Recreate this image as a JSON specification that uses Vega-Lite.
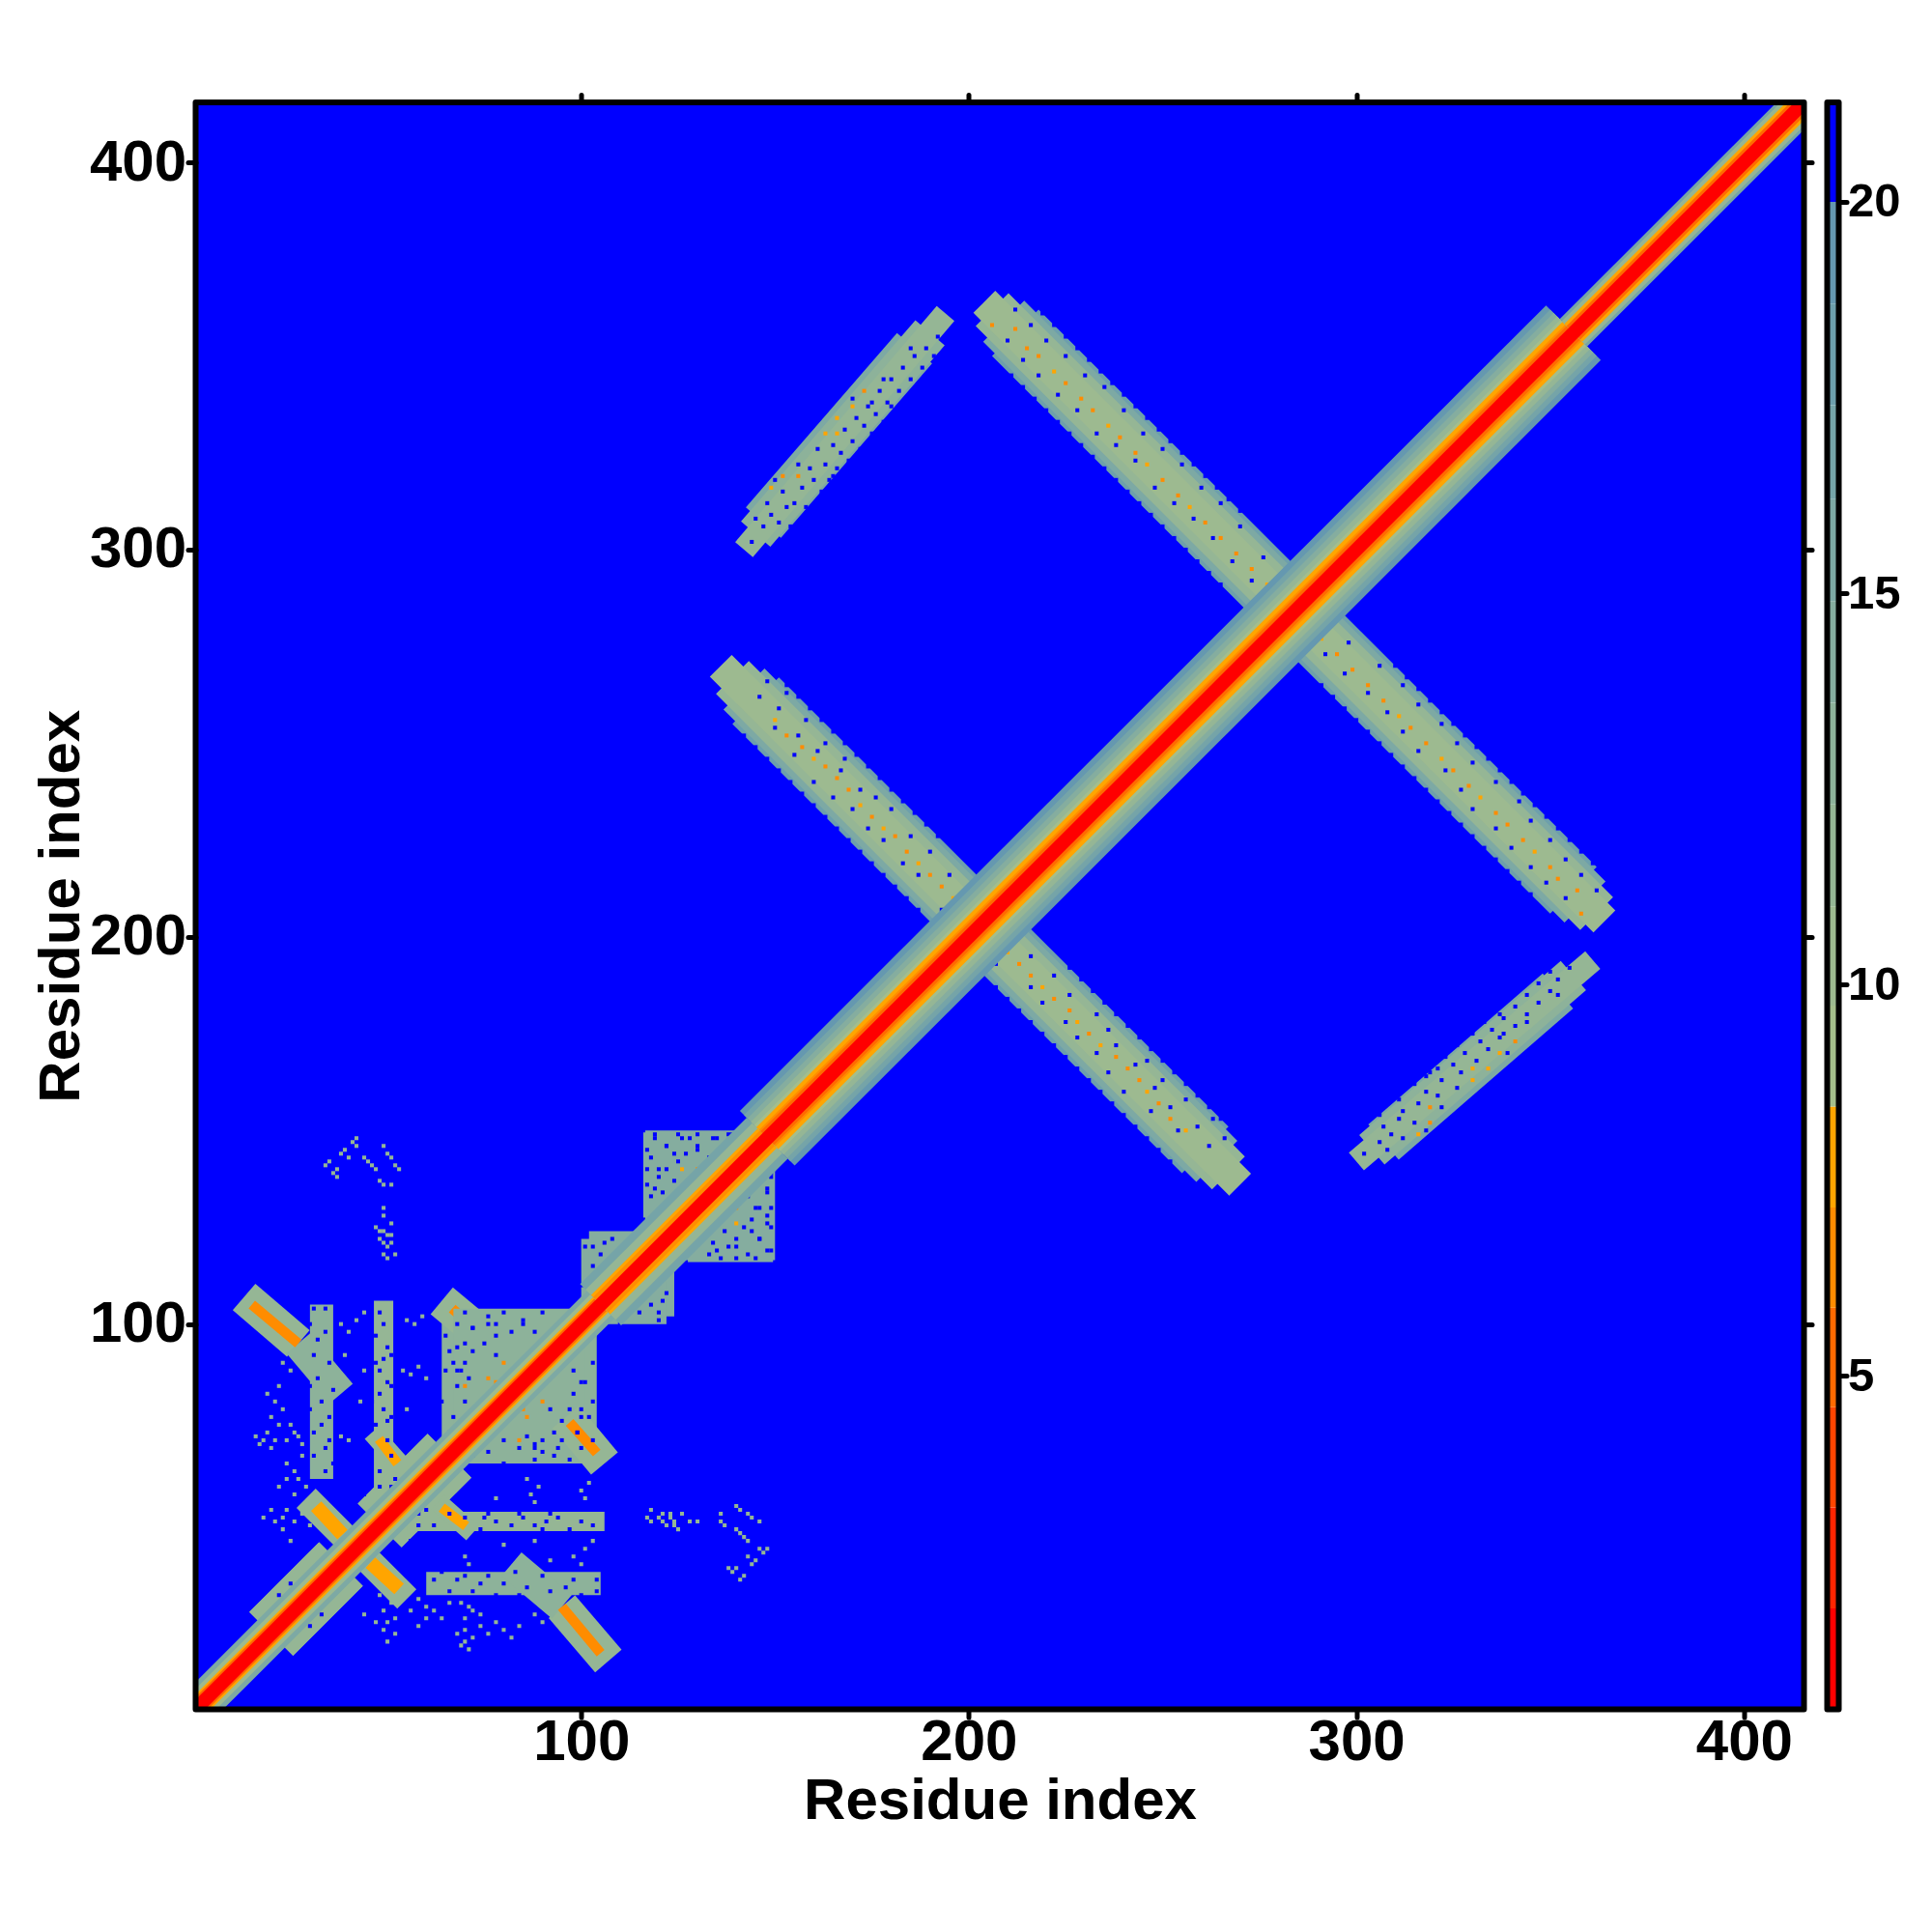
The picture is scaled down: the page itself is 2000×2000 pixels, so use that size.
{"$schema":"https://vega.github.io/schema/vega-lite/v6.json","background":"white","padding":{"left":32.5,"top":95,"right":0,"bottom":0},"spacing":10,"config":{"font":"Liberation Sans"},
"datasets":{
"bands":[
{"i":145,"j":261,"i2":203,"j2":203,"w":17,"d":18},{"i":142,"j":264,"i2":203,"j2":203,"w":15,"d":15},{"i":139,"j":267,"i2":203,"j2":203,"w":12,"d":12},{"i":136,"j":270,"i2":203,"j2":203,"w":8,"d":10},
{"i":212,"j":356,"i2":284,"j2":284,"w":17,"d":18},{"i":209,"j":359,"i2":284,"j2":284,"w":15,"d":15},{"i":206,"j":362,"i2":284,"j2":284,"w":12,"d":12},{"i":204,"j":364,"i2":284,"j2":284,"w":8,"d":10},
{"i":147,"j":307,"i2":186,"j2":352,"w":12,"d":16},{"i":145,"j":304,"i2":190,"j2":356,"w":10,"d":13},{"i":142,"j":300,"i2":194,"j2":361,"w":6,"d":11},
{"i":116,"j":133,"i2":150,"j2":133,"w":33,"d":14},{"i":100,"j":112,"i2":124,"j2":112,"w":20,"d":14},
{"i":64,"j":84,"i2":104,"j2":84,"w":34,"d":13},{"i":48,"j":48,"i2":66,"j2":66,"w":16,"d":12},{"i":20,"j":20,"i2":38,"j2":38,"w":16,"d":12},
{"i":33,"j":60,"i2":33,"j2":105,"w":6,"d":13},{"i":49,"j":55,"i2":49,"j2":106,"w":5,"d":11},
{"i":13,"j":107,"i2":27,"j2":95,"w":9,"d":12},{"i":27,"j":95,"i2":38,"j2":82,"w":8,"d":13},{"i":15,"j":105,"i2":27,"j2":95,"w":2.6,"d":7},
{"i":64,"j":106,"i2":76,"j2":96,"w":9,"d":12},{"i":66.7,"j":104,"i2":74.6,"j2":97,"w":2.6,"d":7},
{"i":46,"j":72,"i2":54,"j2":63,"w":5,"d":12},{"i":47.8,"j":70.3,"i2":52.6,"j2":64,"w":2.6,"d":7.5},
{"i":29,"j":55,"i2":40,"j2":44,"w":7,"d":12},{"i":31.6,"j":53,"i2":38.4,"j2":45.6,"w":3.6,"d":7.5}
],
"diag":[
{"i":0,"j":0,"i2":105,"j2":105,"w":10,"d":16},{"i":0,"j":0,"i2":105,"j2":105,"w":7.5,"d":10},{"i":0,"j":0,"i2":105,"j2":105,"w":5.5,"d":7.8},{"i":0,"j":0,"i2":105,"j2":105,"w":4.5,"d":5},
{"i":105,"j":105,"i2":148,"j2":148,"w":15,"d":17},{"i":105,"j":105,"i2":148,"j2":148,"w":11,"d":11},{"i":105,"j":105,"i2":148,"j2":148,"w":7,"d":7.8},{"i":105,"j":105,"i2":148,"j2":148,"w":5.5,"d":6},
{"i":148,"j":148,"i2":356,"j2":356,"w":20,"d":19},{"i":148,"j":148,"i2":356,"j2":356,"w":17,"d":17},{"i":148,"j":148,"i2":356,"j2":356,"w":14.5,"d":14},{"i":148,"j":148,"i2":356,"j2":356,"w":12,"d":11},{"i":148,"j":148,"i2":356,"j2":356,"w":9.5,"d":9.5},{"i":148,"j":148,"i2":356,"j2":356,"w":8,"d":7.8},{"i":148,"j":148,"i2":356,"j2":356,"w":6,"d":6.5},{"i":148,"j":148,"i2":356,"j2":356,"w":5,"d":5},
{"i":356,"j":356,"i2":416,"j2":416,"w":10,"d":17},{"i":356,"j":356,"i2":416,"j2":416,"w":8.5,"d":11},{"i":356,"j":356,"i2":416,"j2":416,"w":6.5,"d":7.8},{"i":356,"j":356,"i2":416,"j2":416,"w":5,"d":5},
{"i":0,"j":0,"i2":416,"j2":416,"w":3.5,"d":1.5}
],
"cells":[
{"i":150,"j":256,"d":7.8},{"i":153,"j":252,"d":6.5},{"i":157,"j":249,"d":7},{"i":160,"j":246,"d":7.8},{"i":163,"j":244,"d":6.5},{"i":166,"j":241,"d":7},{"i":169,"j":238,"d":6},{"i":172,"j":234,"d":7.8},{"i":175,"j":231,"d":6.5},{"i":178,"j":228,"d":7.5},{"i":181,"j":226,"d":6.5},{"i":184,"j":222,"d":6},{"i":187,"j":219,"d":7.5},{"i":190,"j":216,"d":6},{"i":193,"j":213,"d":7},{"i":196,"j":210,"d":7.5},{"i":199,"j":207,"d":6.5},
{"i":206,"j":358,"d":6},{"i":212,"j":357,"d":6},{"i":215,"j":352,"d":6.5},{"i":218,"j":350,"d":6},{"i":222,"j":346,"d":7.8},{"i":225,"j":343,"d":6},{"i":229,"j":339,"d":7},{"i":232,"j":336,"d":6.5},{"i":236,"j":332,"d":7.8},{"i":239,"j":329,"d":6.5},{"i":243,"j":325,"d":7},{"i":246,"j":322,"d":7.5},{"i":250,"j":318,"d":6.5},{"i":254,"j":314,"d":6},{"i":257,"j":311,"d":7.5},{"i":261,"j":307,"d":6},{"i":265,"j":303,"d":7},{"i":269,"j":299,"d":6.5},{"i":273,"j":295,"d":6},{"i":277,"j":291,"d":7.8},{"i":281,"j":287,"d":6.5},
{"i":149,"j":316,"d":7.5},{"i":152,"j":319,"d":7},{"i":156,"j":319,"d":7},{"i":163,"j":330,"d":7.5},{"i":166,"j":330,"d":7.5},{"i":166,"j":334,"d":8},{"i":170,"j":337,"d":8},{"i":173,"j":341,"d":7},
{"i":34,"j":141,"d":11},{"i":35,"j":142,"d":11},{"i":36,"j":139,"d":11},{"i":37,"j":140,"d":11},{"i":38,"j":144,"d":11},{"i":39,"j":145,"d":11},{"i":40,"j":143,"d":11},{"i":41,"j":147,"d":11},{"i":42,"j":148,"d":11},{"i":42,"j":146,"d":11},{"i":37,"j":138,"d":11},{"i":44,"j":143,"d":11},{"i":45,"j":142,"d":11},{"i":46,"j":141,"d":11},{"i":47,"j":140,"d":11},{"i":49,"j":146,"d":11},{"i":50,"j":144,"d":11},{"i":51,"j":143,"d":11},{"i":52,"j":141,"d":11},{"i":53,"j":140,"d":11},{"i":48,"j":137,"d":11},{"i":49,"j":136,"d":11},{"i":51,"j":136,"d":11},{"i":49,"j":130,"d":11},{"i":49,"j":128,"d":11},{"i":47,"j":125,"d":11},{"i":48,"j":124,"d":11},{"i":49,"j":124,"d":11},{"i":50,"j":123,"d":11},{"i":51,"j":123,"d":11},{"i":48,"j":122,"d":11},{"i":49,"j":121,"d":11},{"i":50,"j":120,"d":11},{"i":51,"j":121,"d":11},{"i":49,"j":118,"d":11},{"i":50,"j":117,"d":11},{"i":52,"j":118,"d":11},{"i":51,"j":126,"d":11},
{"i":76,"j":86,"d":7},{"i":80,"j":90,"d":7},{"i":78,"j":73,"d":7},{"i":70,"j":84,"d":7},{"i":85,"j":78,"d":7},{"i":130,"j":140,"d":7},{"i":132,"j":124,"d":6},{"i":126,"j":140,"d":7.5},
{"i":20,"j":68,"d":11},{"i":21,"j":70,"d":11},{"i":19,"j":72,"d":11},{"i":22,"j":74,"d":11},{"i":20,"j":76,"d":11},{"i":23,"j":78,"d":11},{"i":21,"j":80,"d":11},{"i":19,"j":82,"d":11},{"i":22,"j":84,"d":11},{"i":24,"j":70,"d":11},{"i":25,"j":74,"d":11},{"i":18,"j":70,"d":11},{"i":16,"j":71,"d":11},{"i":17,"j":69,"d":11},{"i":26,"j":72,"d":11},{"i":28,"j":69,"d":11},{"i":27,"j":71,"d":11},{"i":38,"j":71,"d":11},{"i":40,"j":70,"d":11},{"i":24,"j":64,"d":11},{"i":26,"j":62,"d":11},{"i":24,"j":60,"d":11},{"i":22,"j":58,"d":11},{"i":26,"j":56,"d":11},{"i":24,"j":52,"d":11},{"i":20,"j":52,"d":11},{"i":18,"j":50,"d":11},{"i":21,"j":49,"d":11},{"i":23,"j":50,"d":11},{"i":26,"j":49,"d":11},{"i":28,"j":51,"d":11},{"i":30,"j":48,"d":11},{"i":23,"j":47,"d":11},{"i":25,"j":44,"d":11},{"i":28,"j":66,"d":11},{"i":27,"j":60,"d":11},{"i":29,"j":58,"d":11},{"i":25,"j":88,"d":11},{"i":23,"j":90,"d":11},{"i":38,"j":100,"d":11},{"i":40,"j":98,"d":11},{"i":39,"j":92,"d":11},{"i":42,"j":101,"d":11},{"i":44,"j":103,"d":11},{"i":55,"j":101,"d":11},{"i":57,"j":100,"d":11},{"i":59,"j":102,"d":11},{"i":54,"j":88,"d":11},{"i":56,"j":87,"d":11},{"i":44,"j":88,"d":11},{"i":43,"j":80,"d":11},{"i":55,"j":78,"d":11},{"i":58,"j":89,"d":11},{"i":60,"j":86,"d":11}
],
"gaps":[
{"i":146,"j":262},{"i":148,"j":266},{"i":150,"j":254},{"i":151,"j":259},{"i":153,"j":263},{"i":155,"j":247},{"i":156,"j":252},{"i":158,"j":256},{"i":160,"j":240},{"i":161,"j":248},{"i":163,"j":250},{"i":165,"j":236},{"i":167,"j":243},{"i":168,"j":246},{"i":170,"j":233},{"i":172,"j":238},{"i":174,"j":228},{"i":176,"j":236},{"i":178,"j":225},{"i":180,"j":233},{"i":183,"j":219},{"i":185,"j":226},{"i":187,"j":216},{"i":190,"j":222},{"i":193,"j":207},{"i":195,"j":216},
{"i":141,"j":277},{"i":144,"j":274},{"i":147,"j":271},{"i":150,"j":268},{"i":153,"j":265},{"i":156,"j":262},{"i":159,"j":259},{"i":162,"j":256},{"i":165,"j":253},{"i":168,"j":250},{"i":171,"j":247},{"i":174,"j":244},{"i":177,"j":241},{"i":180,"j":238},{"i":183,"j":235},{"i":186,"j":232},{"i":189,"j":229},{"i":192,"j":226},
{"i":142,"j":252},{"i":145,"j":249},{"i":148,"j":246},{"i":151,"j":243},{"i":154,"j":240},{"i":157,"j":237},{"i":160,"j":234},{"i":163,"j":231},{"i":166,"j":228},{"i":169,"j":225},{"i":172,"j":222},{"i":175,"j":219},{"i":178,"j":216},{"i":181,"j":213},{"i":184,"j":210},{"i":187,"j":207},
{"i":210,"j":354},{"i":212,"j":362},{"i":214,"j":349},{"i":216,"j":358},{"i":218,"j":345},{"i":220,"j":354},{"i":223,"j":340},{"i":225,"j":350},{"i":228,"j":336},{"i":230,"j":345},{"i":233,"j":330},{"i":235,"j":342},{"i":238,"j":327},{"i":240,"j":336},{"i":243,"j":323},{"i":245,"j":330},{"i":248,"j":316},{"i":250,"j":326},{"i":253,"j":312},{"i":255,"j":322},{"i":258,"j":308},{"i":260,"j":316},{"i":263,"j":303},{"i":265,"j":312},{"i":268,"j":297},{"i":270,"j":306},{"i":273,"j":292},{"i":276,"j":298},
{"i":210,"j":370},{"i":213,"j":367},{"i":216,"j":364},{"i":219,"j":361},{"i":222,"j":358},{"i":225,"j":355},{"i":228,"j":352},{"i":231,"j":349},{"i":234,"j":346},{"i":237,"j":343},{"i":240,"j":340},{"i":243,"j":337},{"i":246,"j":334},{"i":249,"j":331},{"i":252,"j":328},{"i":255,"j":325},{"i":258,"j":322},{"i":261,"j":319},{"i":264,"j":316},{"i":267,"j":313},{"i":270,"j":310},
{"i":211,"j":345},{"i":214,"j":342},{"i":217,"j":339},{"i":220,"j":336},{"i":223,"j":333},{"i":226,"j":330},{"i":229,"j":327},{"i":232,"j":324},{"i":235,"j":321},{"i":238,"j":318},{"i":241,"j":315},{"i":244,"j":312},{"i":247,"j":309},{"i":250,"j":306},{"i":253,"j":303},{"i":256,"j":300},{"i":259,"j":297},{"i":262,"j":294},{"i":265,"j":291},
{"i":144,"j":302},{"i":145,"j":308},{"i":147,"j":306},{"i":148,"j":312},{"i":149,"j":309},{"i":151,"j":307},{"i":152,"j":315},{"i":153,"j":311},{"i":155,"j":312},{"i":156,"j":322},{"i":157,"j":316},{"i":158,"j":311},{"i":160,"j":318},{"i":161,"j":326},{"i":162,"j":315},{"i":163,"j":322},{"i":164,"j":318},{"i":165,"j":327},{"i":166,"j":321},{"i":167,"j":325},{"i":168,"j":331},{"i":169,"j":323},{"i":170,"j":328},{"i":171,"j":334},{"i":172,"j":326},{"i":173,"j":332},{"i":174,"j":337},{"i":175,"j":330},{"i":176,"j":335},{"i":177,"j":341},{"i":178,"j":333},{"i":179,"j":338},{"i":180,"j":344},{"i":181,"j":336},{"i":182,"j":341},{"i":183,"j":347},{"i":184,"j":339},{"i":185,"j":344},{"i":186,"j":350},{"i":187,"j":342},{"i":188,"j":347},{"i":189,"j":352},{"i":190,"j":345},{"i":191,"j":350},{"i":192,"j":355},{"i":150,"j":318},{"i":154,"j":306},{"i":159,"j":321},{"i":165,"j":319},{"i":170,"j":339},{"i":175,"j":338},{"i":180,"j":337},{"i":185,"j":352},{"i":188,"j":343},{"i":178,"j":344},
{"i":30,"j":100},{"i":31,"j":92},{"i":32,"j":86},{"i":34,"j":98},{"i":35,"j":90},{"i":36,"j":83},{"i":30,"j":78},{"i":33,"j":74},{"i":35,"j":70},{"i":31,"j":66},{"i":34,"j":62},{"i":36,"j":64},{"i":32,"j":96},{"i":30,"j":84},{"i":34,"j":104},{"i":31,"j":104},{"i":35,"j":76},{"i":33,"j":80},{"i":31,"j":72},{"i":34,"j":68},
{"i":47,"j":97},{"i":49,"j":100},{"i":51,"j":92},{"i":48,"j":88},{"i":50,"j":85},{"i":46,"j":80},{"i":49,"j":78},{"i":51,"j":76},{"i":47,"j":74},{"i":50,"j":70},{"i":51,"j":66},{"i":48,"j":62},{"i":51,"j":58},{"i":47,"j":90},{"i":50,"j":94},{"i":51,"j":84},{"i":48,"j":82},{"i":49,"j":91},{"i":48,"j":103},{"i":50,"j":75},{"i":48,"j":58},
{"i":70,"j":90},{"i":73,"j":78},{"i":75,"j":95},{"i":78,"j":92},{"i":68,"j":84},{"i":72,"j":99},{"i":66,"j":93},{"i":64,"j":80},{"i":71,"j":86},{"i":82,"j":98},{"i":76,"j":100},{"i":67,"j":76},{"i":65,"j":88},{"i":66,"j":72},{"i":70,"j":80},{"i":72,"j":93},{"i":65,"j":97},{"i":69,"j":88},{"i":78,"j":100},{"i":85,"j":100},{"i":88,"j":98},{"i":74,"j":69},{"i":90,"j":67},{"i":95,"j":70},{"i":99,"j":72},{"i":102,"j":76},{"i":103,"j":80},{"i":97,"j":78},{"i":101,"j":85},{"i":94,"j":68},{"i":88,"j":68},{"i":103,"j":90},{"i":100,"j":68},{"i":103,"j":70},
{"i":118,"j":133},{"i":122,"j":128},{"i":125,"j":142},{"i":128,"j":135},{"i":120,"j":138},{"i":130,"j":146},{"i":133,"j":143},{"i":116,"j":127},{"i":124,"j":137},{"i":127,"j":144},{"i":135,"j":148},{"i":117,"j":145},{"i":119,"j":148},{"i":117,"j":140},{"i":122,"j":146},{"i":125,"j":149},{"i":118,"j":126},{"i":121,"j":134},{"i":117,"j":136},{"i":128,"j":148},{"i":122,"j":140},{"i":136,"j":145},{"i":139,"j":149},{"i":130,"j":149},{"i":124,"j":132},{"i":140,"j":120},{"i":146,"j":122},{"i":148,"j":126},{"i":143,"j":118},{"i":149,"j":119},{"i":145,"j":130},{"i":148,"j":134},{"i":149,"j":138},{"i":144,"j":124},{"i":135,"j":119},
{"i":52,"j":60},{"i":44,"j":56},{"i":23,"j":37},{"i":25,"j":33},{"i":27,"j":40},{"i":22,"j":30},{"i":101,"j":120},{"i":103,"j":115},{"i":106,"j":121},{"i":100,"j":110},{"i":120,"j":103},{"i":122,"j":108},{"i":118,"j":105}
]},
"hconcat":[{"width":1665,"height":1663.5,"view":{"fill":"#0000ff","stroke":null},
"encoding":{"color":{"field":"d","type":"quantitative","legend":null,"scale":{"type":"threshold","domain":[2.03,3.32,4.6,5.87,7.15,8.44,9.73,11,12.3,13.6,14.9,16.2,17.4,18.7,20],"range":["#ff0000","#ff2500","#ff4500","#ff6a00","#ff8c00","#ffa500","#a4be8b","#9dba90","#95b695","#8db29a","#85ad9f","#7da9a4","#75a4a8","#6d9fac","#6598b0","#0000ff"]}}},
"resolve":{"axis":{"x":"independent","y":"independent"}},
"layer":[
{"data":{"name":"bands"},"mark":{"type":"rule","clip":true},"encoding":{
"x":{"field":"i","type":"quantitative","scale":{"domain":[0.5,415.5],"nice":false,"zero":false},"axis":{"values":[100,200,300,400],"grid":false,"domain":false,"title":"Residue index","titleFontSize":60,"titleFontWeight":"bold","titlePadding":2,"labelFontSize":60,"labelFontWeight":"bold","labelColor":"#000000","titleColor":"#000000","tickColor":"#000000","tickSize":8,"tickWidth":5,"tickCap":"round","labelPadding":-3}},
"y":{"field":"j","type":"quantitative","scale":{"domain":[0.5,415.5],"nice":false,"zero":false},"axis":{"values":[100,200,300,400],"grid":false,"domain":false,"title":"Residue index","titleFontSize":60,"titleFontWeight":"bold","titlePadding":-2,"labelFontSize":60,"labelFontWeight":"bold","labelColor":"#000000","titleColor":"#000000","tickColor":"#000000","tickSize":8,"tickWidth":5,"tickCap":"round","labelPadding":2}},
"x2":{"field":"i2"},"y2":{"field":"j2"},
"size":{"field":"w","type":"quantitative","legend":null,"scale":{"domain":[0,34],"range":[0,136.3],"nice":false}}}},
{"data":{"name":"bands"},"mark":{"type":"rule","clip":true},"encoding":{
"x":{"field":"j","type":"quantitative","scale":{"domain":[0.5,415.5],"nice":false,"zero":false},"axis":{"orient":"top","values":[100,200,300,400],"grid":false,"domain":false,"labels":false,"title":null,"tickColor":"#000000","tickSize":8,"tickWidth":5,"tickCap":"round"}},
"y":{"field":"i","type":"quantitative","scale":{"domain":[0.5,415.5],"nice":false,"zero":false},"axis":{"orient":"right","values":[100,200,300,400],"grid":false,"domain":false,"labels":false,"title":null,"tickColor":"#000000","tickSize":8,"tickWidth":5,"tickCap":"round"}},
"x2":{"field":"j2"},"y2":{"field":"i2"},
"size":{"field":"w","type":"quantitative","legend":null,"scale":{"domain":[0,34],"range":[0,136.3],"nice":false}}}},
{"data":{"name":"gaps"},"mark":{"type":"rect","width":4.05,"height":4.05,"clip":true},"encoding":{"color":{"value":"#0000ff"},
"x":{"field":"i","type":"quantitative","axis":null,"scale":{"domain":[0.5,415.5],"nice":false,"zero":false}},"y":{"field":"j","type":"quantitative","axis":null,"scale":{"domain":[0.5,415.5],"nice":false,"zero":false}}}},
{"data":{"name":"gaps"},"mark":{"type":"rect","width":4.05,"height":4.05,"clip":true},"encoding":{"color":{"value":"#0000ff"},
"x":{"field":"j","type":"quantitative","axis":null,"scale":{"domain":[0.5,415.5],"nice":false,"zero":false}},"y":{"field":"i","type":"quantitative","axis":null,"scale":{"domain":[0.5,415.5],"nice":false,"zero":false}}}},
{"data":{"name":"cells"},"mark":{"type":"rect","width":4.05,"height":4.05,"clip":true},"encoding":{
"x":{"field":"i","type":"quantitative","axis":null,"scale":{"domain":[0.5,415.5],"nice":false,"zero":false}},"y":{"field":"j","type":"quantitative","axis":null,"scale":{"domain":[0.5,415.5],"nice":false,"zero":false}}}},
{"data":{"name":"cells"},"mark":{"type":"rect","width":4.05,"height":4.05,"clip":true},"encoding":{
"x":{"field":"j","type":"quantitative","axis":null,"scale":{"domain":[0.5,415.5],"nice":false,"zero":false}},"y":{"field":"i","type":"quantitative","axis":null,"scale":{"domain":[0.5,415.5],"nice":false,"zero":false}}}},
{"data":{"name":"diag"},"mark":{"type":"rule","clip":true},"encoding":{
"x":{"field":"i","type":"quantitative","axis":null,"scale":{"domain":[0.5,415.5],"nice":false,"zero":false}},"y":{"field":"j","type":"quantitative","axis":null,"scale":{"domain":[0.5,415.5],"nice":false,"zero":false}},"x2":{"field":"i2"},"y2":{"field":"j2"},
"size":{"field":"w","type":"quantitative","legend":null,"scale":{"domain":[0,34],"range":[0,136.3],"nice":false}}}},
{"data":{"values":[{"frame":"plot"}]},"mark":{"type":"rect","fill":null,"stroke":"#000000","strokeWidth":6,"strokeJoin":"round"},"encoding":{"color":{"value":null}}}
]},
{"width":12,"height":1663.5,"view":{"stroke":null},
"layer":[{
"data":{"values":[{"lo":0.74,"hi":2.03,"d":1.4},{"lo":2.03,"hi":3.32,"d":2.7},{"lo":3.32,"hi":4.6,"d":4},{"lo":4.6,"hi":5.87,"d":5.2},{"lo":5.87,"hi":7.15,"d":6.5},{"lo":7.15,"hi":8.44,"d":7.8},{"lo":8.44,"hi":9.73,"d":9},{"lo":9.73,"hi":11,"d":10.4},{"lo":11,"hi":12.3,"d":11.6},{"lo":12.3,"hi":13.6,"d":13},{"lo":13.6,"hi":14.9,"d":14.2},{"lo":14.9,"hi":16.2,"d":15.5},{"lo":16.2,"hi":17.4,"d":16.8},{"lo":17.4,"hi":18.7,"d":18},{"lo":18.7,"hi":20,"d":19.4},{"lo":20,"hi":21.27,"d":20.6}]},
"mark":{"type":"rect"},
"encoding":{"y":{"field":"lo","type":"quantitative","scale":{"domain":[0.74,21.27],"nice":false,"zero":false},"axis":{"orient":"right","values":[5,10,15,20],"grid":false,"domain":false,"title":null,"labelFontSize":49,"labelFontWeight":"bold","labelColor":"#000000","tickColor":"#000000","tickSize":8,"tickWidth":5,"tickCap":"round","labelPadding":1}},"y2":{"field":"hi"},
"color":{"field":"d","type":"quantitative","legend":null,"scale":{"type":"threshold","domain":[2.03,3.32,4.6,5.87,7.15,8.44,9.73,11,12.3,13.6,14.9,16.2,17.4,18.7,20],"range":["#ff0000","#ff2500","#ff4500","#ff6a00","#ff8c00","#ffa500","#a4be8b","#9dba90","#95b695","#8db29a","#85ad9f","#7da9a4","#75a4a8","#6d9fac","#6598b0","#0000ff"]}}}},
{"data":{"values":[{"frame":"bar"}]},"mark":{"type":"rect","fill":null,"stroke":"#000000","strokeWidth":6,"strokeJoin":"round"},"encoding":{}}
]}
]}
